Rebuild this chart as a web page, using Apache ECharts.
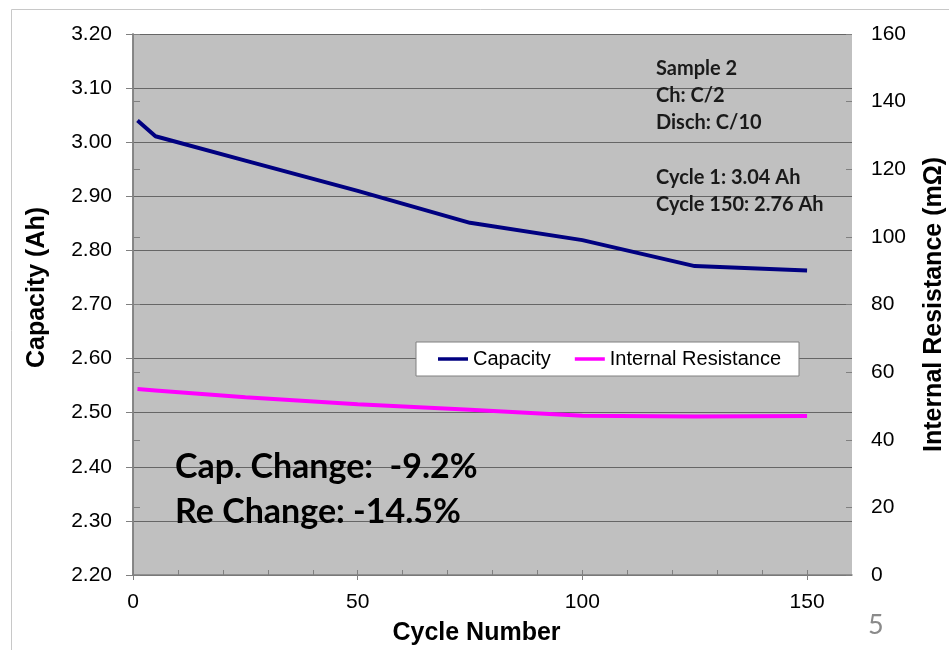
<!DOCTYPE html>
<html>
<head>
<meta charset="utf-8">
<script src="https://cdn.jsdelivr.net/npm/echarts@6/dist/echarts.min.js"></script>
<style>
html,body{margin:0;padding:0;background:#fff;}
#chart{width:949px;height:650px;}
</style>
</head>
<body>
<div id="chart"></div>
<script>
// ---- data ----
const cycles = [1, 5, 25, 50, 75, 100, 125, 150];
const capacity = [3.04, 3.011, 2.966, 2.91, 2.851, 2.819, 2.771, 2.763];
const resistance = [55.0, 54.6, 52.6, 50.5, 48.9, 47.1, 46.9, 47.0];
const xMajorTicks = [0, 50, 100, 150];
const xMinorTicks = [0, 10, 20, 30, 40, 50, 60, 70, 80, 90, 100, 110, 120, 130, 140, 150];
const seriesNames = ['Capacity', 'Internal Resistance'];
const noteLines = ['Sample 2', 'Ch: C/2', 'Disch: C/10', '', 'Cycle 1: 3.04 Ah', 'Cycle 150: 2.76 Ah'];
const changeLines = ['Cap. Change:  -9.2%', 'Re Change: -14.5%'];
const pageNumber = '5';

const ARIAL = '"Liberation Sans", Arial, sans-serif';
const CAL = 'Lato, "Open Sans", sans-serif';
const axisGray = '#808080';
const gridGray = '#666666';

const capData = cycles.map((c, i) => [c, capacity[i]]);
const resData = cycles.map((c, i) => [c, resistance[i]]);

const chart = echarts.init(document.getElementById('chart'), null, {renderer: 'canvas'});
chart.setOption({
  backgroundColor: '#ffffff',
  animation: false,
  grid: {
    left: 133, right: 97, top: 34, bottom: 75,
    containLabel: false, outerBoundsMode: 'none',
    show: true, backgroundColor: '#c0c0c0', borderWidth: 0
  },
  legend: {
    data: seriesNames.map(n => ({name: n, icon: 'rect'})),
    left: 416, top: 342,
    backgroundColor: '#ffffff',
    borderColor: '#808080', borderWidth: 1,
    padding: [7, 18, 7, 22],
    itemWidth: 30, itemHeight: 3.5, itemGap: 24,
    textStyle: {fontFamily: ARIAL, fontSize: 20, color: '#000'}
  },
  xAxis: [
    {
      type: 'value', min: 0, max: 160, position: 'bottom',
      name: 'Cycle Number', nameLocation: 'middle', nameGap: 46,
      nameTextStyle: {fontFamily: ARIAL, fontSize: 25, fontWeight: 'bold', color: '#000', padding: [0, 32, 0, 0]},
      axisLine: {show: true, lineStyle: {color: axisGray, width: 1.5}},
      axisTick: {show: true, customValues: xMajorTicks, length: 5, inside: false, lineStyle: {color: axisGray, width: 1}},
      axisLabel: {customValues: xMajorTicks, margin: 17, fontFamily: ARIAL, fontSize: 21, color: '#000'},
      splitLine: {show: false}
    },
    {
      type: 'value', min: 0, max: 160, position: 'bottom',
      axisLine: {show: false},
      axisTick: {show: true, customValues: xMinorTicks, length: 5, inside: true, lineStyle: {color: axisGray, width: 1}},
      axisLabel: {show: false},
      splitLine: {show: false}
    }
  ],
  yAxis: [
    {
      type: 'value', min: 2.2, max: 3.2, interval: 0.1, position: 'left',
      name: 'Capacity (Ah)', nameLocation: 'middle', nameGap: 83, nameRotate: 90,
      nameTextStyle: {fontFamily: ARIAL, fontSize: 25, fontWeight: 'bold', color: '#000', padding: [0, 0, 0, 34]},
      axisLine: {show: true, lineStyle: {color: axisGray, width: 1.5}},
      axisTick: {show: true, length: 7, inside: false, lineStyle: {color: axisGray, width: 1}},
      axisLabel: {margin: 21, fontFamily: ARIAL, fontSize: 21, color: '#000', formatter: v => v.toFixed(2)},
      splitLine: {show: true, lineStyle: {color: gridGray, width: 1.2}}
    },
    {
      type: 'value', min: 0, max: 160, interval: 20, position: 'right',
      name: 'Internal Resistance (mΩ)', nameLocation: 'middle', nameGap: 70, nameRotate: 90,
      nameTextStyle: {fontFamily: ARIAL, fontSize: 25, fontWeight: 'bold', color: '#000'},
      axisLine: {show: true, lineStyle: {color: axisGray, width: 1.5}},
      axisTick: {show: true, length: 7, inside: false, lineStyle: {color: axisGray, width: 1}},
      axisLabel: {margin: 19, fontFamily: ARIAL, fontSize: 21, color: '#000'},
      splitLine: {show: false}
    },
    {
      type: 'value', min: 0, max: 160, interval: 20, position: 'right',
      axisLine: {show: false},
      axisTick: {show: true, length: 6, inside: true, lineStyle: {color: axisGray, width: 1}},
      axisLabel: {show: false},
      splitLine: {show: false}
    }
  ],
  series: [
    {
      name: seriesNames[0], type: 'line', xAxisIndex: 0, yAxisIndex: 0,
      data: capData, symbol: 'none', smooth: false,
      lineStyle: {color: '#000080', width: 4}, itemStyle: {color: '#000080'}
    },
    {
      name: seriesNames[1], type: 'line', xAxisIndex: 0, yAxisIndex: 1,
      data: resData, symbol: 'none', smooth: false,
      lineStyle: {color: '#ff00ff', width: 4}, itemStyle: {color: '#ff00ff'}
    }
  ],
  graphic: [
    {
      type: 'rect', silent: true, z: -10,
      shape: {x: 11.5, y: 9.5, width: 1000, height: 1000},
      style: {fill: 'none', stroke: '#c8c8c8', lineWidth: 1}
    },
    {
      type: 'text', x: 656, y: 55, z: 100,
      style: {text: noteLines.join('\n'), fontFamily: CAL, fontSize: 20, fontWeight: 'bold', lineHeight: 27.2, fill: '#1a1a1a'}
    },
    {
      type: 'text', x: 175, y: 445, z: 100,
      style: {text: changeLines.join('\n'), fontFamily: CAL, fontSize: 34, fontWeight: 'bold', lineHeight: 45, fill: '#000'}
    },
    {
      type: 'text', x: 868, y: 612, z: 100,
      style: {text: pageNumber, fontFamily: CAL, fontSize: 27, fill: '#8a8a8a'}
    }
  ]
});
</script>
</body>
</html>
